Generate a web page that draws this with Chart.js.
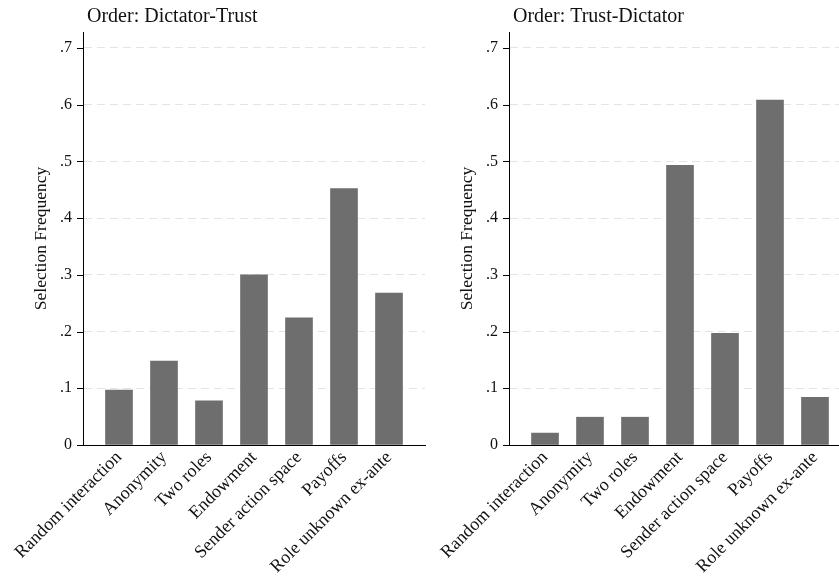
<!DOCTYPE html>
<html>
<head>
<meta charset="utf-8">
<script src="https://cdn.jsdelivr.net/npm/chart.js@4"></script>
<style>
  html, body { margin: 0; padding: 0; background: #fff; }
  body { width: 839px; height: 577px; overflow: hidden; position: relative; }
  .panel { position: absolute; top: 0; width: 430px; height: 577px; }
</style>
</head>
<body>
<div class="panel" style="left:0"><canvas id="chartLeft" width="430" height="577"></canvas></div>
<div class="panel" style="left:426px"><canvas id="chartRight" width="430" height="577"></canvas></div>
<script>
// categories shared by both panels
const categories = [
  "Random interaction",
  "Anonymity",
  "Two roles",
  "Endowment",
  "Sender action space",
  "Payoffs",
  "Role unknown ex-ante",
];

// selection frequency
const dictatorTrust = [0.097, 0.148, 0.078, 0.300, 0.224, 0.452, 0.268];
const trustDictator = [0.021, 0.049, 0.049, 0.493, 0.197, 0.608, 0.084];

const yTicks = [0, 0.1, 0.2, 0.3, 0.4, 0.5, 0.6, 0.7];

const serif = "'Liberation Serif', 'DejaVu Serif', serif";

// panel title just right of the y axis, plus the small outward y tick marks
const panelDecor = {
  id: "panelDecor",
  afterDraw(chart, args, opts) {
    const { ctx, chartArea } = chart;
    const y = chart.scales.y;
    ctx.save();
    ctx.strokeStyle = "#000";
    ctx.lineWidth = 1;
    yTicks.forEach((v) => {
      const py = Math.round(y.getPixelForValue(v)) + 0.5;
      ctx.beginPath();
      ctx.moveTo(y.right - 6, py);
      ctx.lineTo(y.right, py);
      ctx.stroke();
    });
    ctx.fillStyle = "#111";
    ctx.font = "20px " + serif;
    ctx.textAlign = "left";
    ctx.textBaseline = "alphabetic";
    ctx.fillText(opts.text, chartArea.left + 4, 22);
    ctx.restore();
  },
};

function makeChart(id, title, values) {
  const ctx = document.getElementById(id);
  return new Chart(ctx, {
    type: "bar",
    data: {
      datasets: [
        {
          data: values.map((v, i) => ({ x: i, y: v })),
          backgroundColor: "#6e6e6e",
          borderWidth: 0,
          barThickness: 27,
        },
      ],
    },
    plugins: [panelDecor],
    options: {
      responsive: false,
      animation: false,
      layout: { padding: { left: 0, right: 5, top: 32, bottom: 0 } },
      plugins: {
        legend: { display: false },
        tooltip: { enabled: false },
        title: { display: false },
        panelDecor: { text: title },
      },
      scales: {
        x: {
          type: "linear",
          offset: false,
          min: -0.8,
          max: 6.8,
          afterBuildTicks: (axis) => {
            axis.ticks = categories.map((c, i) => ({ value: i }));
          },
          afterFit: (s) => {
            s.height = 132;
          },
          grid: { display: false, drawTicks: false },
          border: { display: true, color: "#000", width: 1 },
          ticks: {
            autoSkip: false,
            maxRotation: 45,
            minRotation: 45,
            padding: 2,
            color: "#111",
            font: { family: serif, size: 18 },
            callback: (v) => categories[v],
          },
        },
        y: {
          min: 0,
          max: 0.728,
          afterBuildTicks: (axis) => {
            axis.ticks = yTicks.map((v) => ({ value: v }));
          },
          afterFit: (s) => {
            s.width = 83;
          },
          grid: {
            color: (c) => (c.tick && c.tick.value === 0 ? "rgba(0,0,0,0)" : "#e4e4e4"),
            tickColor: "rgba(0,0,0,0)",
            tickLength: 6,
          },
          border: { display: true, color: "#000", width: 1, dash: [8, 5] },
          ticks: {
            padding: 5,
            color: "#111",
            font: { family: serif, size: 16 },
            callback: (v) => (v === 0 ? "0" : "." + Math.round(v * 10)),
          },
          title: {
            display: true,
            text: "Selection Frequency",
            color: "#111",
            font: { family: serif, size: 17.5 },
            padding: { top: 31, bottom: 0 },
          },
        },
      },
    },
  });
}

makeChart("chartLeft", "Order: Dictator-Trust", dictatorTrust);
makeChart("chartRight", "Order: Trust-Dictator", trustDictator);
</script>
</body>
</html>
